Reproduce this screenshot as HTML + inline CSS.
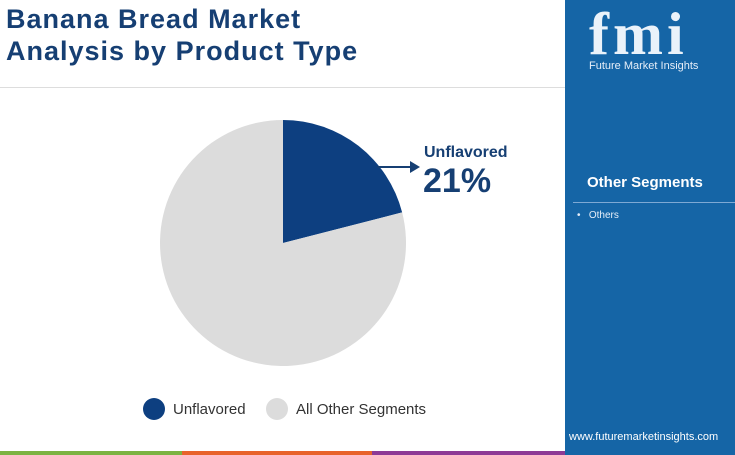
<!DOCTYPE html>
<html><head><meta charset="utf-8"><style>
body{margin:0;width:735px;height:455px;overflow:hidden;background:#fff;font-family:"Liberation Sans",sans-serif;position:relative}
.abs{position:absolute}
</style></head><body>
<div class="abs" style="left:6px;top:3px;font-size:27px;font-weight:bold;color:#163f73;line-height:32px;letter-spacing:1px">Banana Bread Market<br>Analysis by Product Type</div>
<div class="abs" style="left:0;top:87px;width:565px;height:1px;background:#ddd"></div>
<div class="abs" style="left:565px;top:0;width:170px;height:455px;background:#1565a6">
  <div class="abs" style="left:24px;top:0px;font-size:60px;font-weight:bold;color:#eaf2fa;font-family:'Liberation Serif',serif;letter-spacing:4px">fmi</div>
  <div class="abs" style="left:24px;top:60px;font-size:11px;color:#e6eef8">Future Market Insights</div>
  <div class="abs" style="left:22px;top:174px;font-size:15px;font-weight:bold;color:#fff">Other Segments</div>
  <div class="abs" style="left:8px;top:202px;width:162px;height:1px;background:#7ea9d4"></div>
  <div class="abs" style="left:12px;top:210px;font-size:10px;color:#e6eef8">•&nbsp;&nbsp;&nbsp;Others</div>
  <div class="abs" style="left:4px;top:431px;font-size:11px;color:#fff">www.futuremarketinsights.com</div>
</div>
<div class="abs" style="left:0;top:451px;width:182px;height:4px;background:#7cb342"></div>
<div class="abs" style="left:182px;top:451px;width:190px;height:4px;background:#e8632b"></div>
<div class="abs" style="left:372px;top:451px;width:193px;height:4px;background:#8e3a96"></div>
<svg class="abs" style="left:0;top:0" width="565" height="450" id="chart"></svg>
<div class="abs" style="left:424px;top:144px;font-size:16px;font-weight:bold;color:#163f73">Unflavored</div>
<div class="abs" style="left:423px;top:162px;font-size:34px;font-weight:bold;color:#163f73">21%</div>
<div class="abs" style="left:143px;top:398px;font-size:15px;color:#333;display:flex;align-items:center"><span style="display:inline-block;width:22px;height:22px;border-radius:50%;background:#0d3f80;margin-right:8px"></span>Unflavored</div>
<div class="abs" style="left:266px;top:398px;font-size:15px;color:#333;display:flex;align-items:center"><span style="display:inline-block;width:22px;height:22px;border-radius:50%;background:#dcdcdc;margin-right:8px"></span>All Other Segments</div>
<script>
const categories=["Unflavored","All Other Segments"];
const values=[21,79];
const colors=["#0d3f80","#dcdcdc"];
const svg=document.getElementById('chart');
const cx=283,cy=243,r=123;
let total=values.reduce((a,b)=>a+b,0),acc=0;
values.forEach((v,i)=>{
  const a0=acc/total*2*Math.PI;acc+=v;const a1=acc/total*2*Math.PI;
  const p=document.createElementNS('http://www.w3.org/2000/svg','path');
  const x0=cx+r*Math.sin(a0),y0=cy-r*Math.cos(a0),x1=cx+r*Math.sin(a1),y1=cy-r*Math.cos(a1);
  p.setAttribute('d',`M${cx},${cy}L${x0},${y0}A${r},${r} 0 ${a1-a0>Math.PI?1:0} 1 ${x1},${y1}Z`);
  p.setAttribute('fill',colors[i]);
  
  
  svg.appendChild(p);
});
const ln=document.createElementNS('http://www.w3.org/2000/svg','path');
ln.setAttribute('d','M377,167L412,167');
ln.setAttribute('stroke','#163f73');ln.setAttribute('stroke-width','2');ln.setAttribute('fill','none');


svg.appendChild(ln);
const ar=document.createElementNS('http://www.w3.org/2000/svg','path');
ar.setAttribute('d','M420,167L410,161L410,173Z');ar.setAttribute('fill','#163f73');


svg.appendChild(ar);
</script>
</body></html>
